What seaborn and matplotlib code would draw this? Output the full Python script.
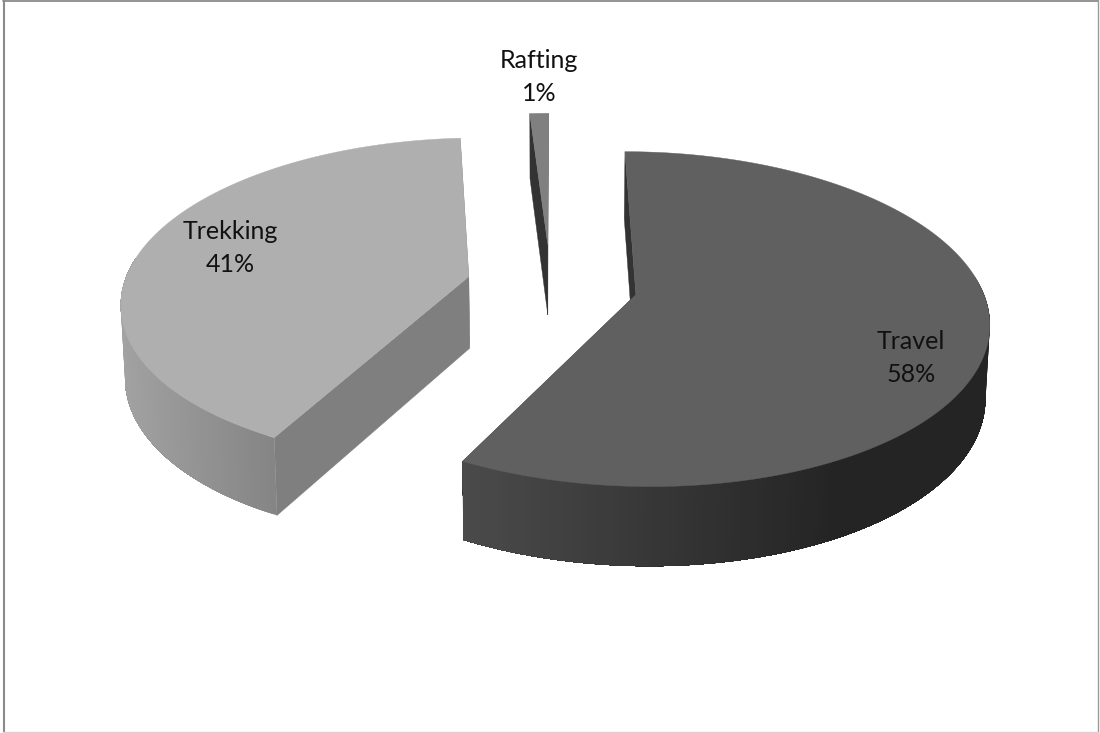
import numpy as np
import matplotlib
matplotlib.use("Agg")
import matplotlib.pyplot as plt
import seaborn as sns

# --- data ---
labels = ["Travel", "Trekking", "Rafting"]
values = [57.7, 41.3, 1.0]

# --- style ---
top_colors = ["#606060", "#afafaf", "#808080"]
edge_colors = ["#333333", "#7f7f7f", "#333333"]
wall_left = ["#4b4b4b", "#a2a2a2", "#333333"]
wall_right = ["#242424", "#858585", "#333333"]
explode = [0.2527, 0.244, 0.26]
label_xy = [(911, 358), (230, 248), (539, 77)]

VX, YC, RX, RY, K, DEPTH = 550.5, 284.8, 345.0, 161.0, 0.145, 72.0

sns.set_theme(style="white")
plt.rcParams["font.family"] = ["Lato", "DejaVu Sans"]
top_palette = sns.color_palette(top_colors)


def project(U, V, bottom=False):
    w = 1 + K * V
    x = VX + RX * U / w
    y = YC - RY * V / w
    if bottom:
        x = VX + 0.99 * (x - VX)
        y = y + DEPTH / w ** 0.6
    return x, y


fig, ax = plt.subplots(figsize=(11, 7.33), dpi=100)
ax.set_position([0, 0, 1, 1])
ax.set_xlim(0, 1100)
ax.set_ylim(733, 0)
ax.axis("off")

# chart frame
ax.plot([3.5, 3.5], [0, 733], color="#8a8a8a", lw=1.5)
ax.plot([3, 1098], [1, 1], color="#8a8a8a", lw=1.3)
ax.plot([1098, 1098], [0, 733], color="#9a9a9a", lw=1.0)
ax.plot([3, 1098], [732, 732], color="#d4d4d4", lw=1.0)

frac = np.array(values, dtype=float) / np.sum(values)
ends = np.cumsum(frac) * 2 * np.pi
starts = np.r_[0.0, ends[:-1]]


def draw_slice(i):
    t0, t1 = starts[i], ends[i]
    mid = (t0 + t1) / 2
    ou, ov = explode[i] * np.sin(mid), explode[i] * np.cos(mid)
    ts = np.linspace(t0, t1, 361)
    U = ou + np.sin(ts)
    V = ov + np.cos(ts)
    xt, yt = project(U, V)
    xb, yb = project(U, V, bottom=True)
    ax_, ay_ = project(ou, ov)
    bx_, by_ = project(ou, ov, bottom=True)

    # radial walls
    for j in (0, -1):
        ax.fill([xt[j], xb[j], bx_, ax_], [yt[j], yb[j], by_, ay_],
                color=edge_colors[i], lw=0.3)

    # outer wall, shaded across its width; each band runs on to the far end
    # of the wall so that no seams appear between the bands
    idx = np.where(np.cos(ts) < 0.12)[0]
    if len(idx) and frac[i] > 0.05:
        cl = np.array(matplotlib.colors.to_rgb(wall_left[i]))
        cr = np.array(matplotlib.colors.to_rgb(wall_right[i]))
        xmin, xmax = xt[idx].min(), xt[idx].max()
        if i == 0:
            xmax = xmin + 0.72 * (xmax - xmin)
        if i == 1:
            xmax = xt[0]
        # contiguous run of front-facing points
        runs = np.split(idx, np.where(np.diff(idx) != 1)[0] + 1)
        for run in runs:
            # order bands from the right-hand end of the wall to the left
            order = run if xt[run[0]] > xt[run[-1]] else run[::-1]
            for n in range(0, len(order) - 1, 2):
                part = order[n:]
                f = np.clip((xt[order[n]] - xmin) / (xmax - xmin), 0, 1)
                ax.fill(np.r_[xt[part], xb[part][::-1]],
                        np.r_[yt[part], yb[part][::-1]],
                        color=cl + (cr - cl) * f, lw=0)

    # top surface
    ax.fill(np.r_[ax_, xt], np.r_[ay_, yt], color=top_palette[i], lw=0.3)


for i in (1, 2, 0):
    draw_slice(i)

for lab, val, (x, y) in zip(labels, values, label_xy):
    ax.text(x, y, f"{lab}\n{round(val)}%", ha="center", va="center", fontsize=18,
            color="#111111", linespacing=1.5)

fig.savefig("out.png", dpi=100)
